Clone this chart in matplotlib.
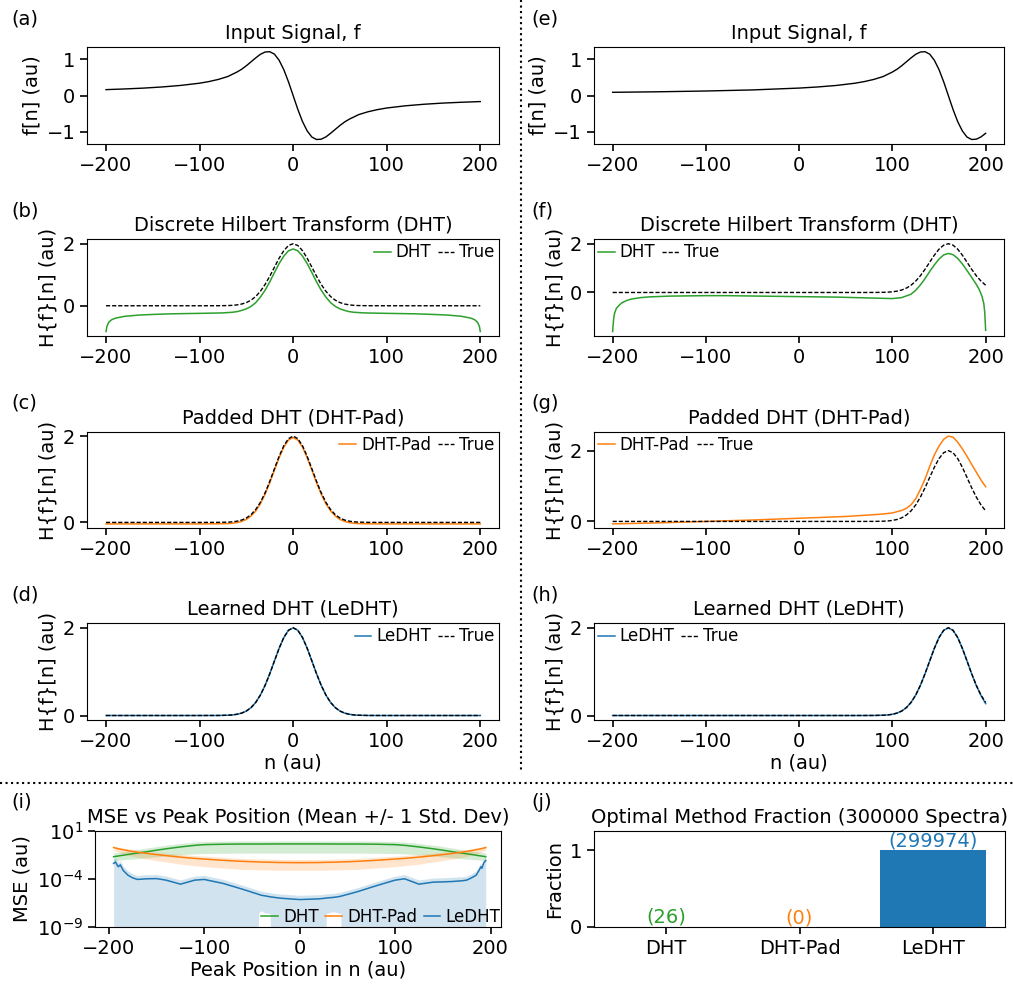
import numpy as np
import matplotlib
matplotlib.use("Agg")
import matplotlib.pyplot as plt
from matplotlib.lines import Line2D
from matplotlib.ticker import NullLocator

plt.rcParams['font.family'] = ['DejaVu Sans']
plt.rcParams['font.size'] = 14
plt.rcParams['axes.titlesize'] = 14
plt.rcParams['legend.fontsize'] = 12
plt.rcParams['xtick.major.size'] = 5
plt.rcParams['ytick.major.size'] = 5
plt.rcParams['xtick.major.width'] = 1.2
plt.rcParams['ytick.major.width'] = 1.2

# ---- left column: peak at n = 0
n_in_left = [-200, -180, -160, -140, -120, -100, -90, -80, -70, -60, -55, -50, -45, -40, -35,
             -30, -25, -20, -15, -10, -5, 0, 5, 10, 15, 20, 25, 30, 35, 40, 45, 50, 55, 60,
             70, 80, 90, 100, 120, 140, 160, 180, 200]
f_left = [0.165, 0.184, 0.207, 0.239, 0.282, 0.343, 0.388, 0.447, 0.526, 0.652, 0.729, 0.826,
          0.934, 1.043, 1.142, 1.205, 1.214, 1.146, 0.977, 0.718, 0.381, 0.0, -0.381, -0.718,
          -0.977, -1.146, -1.214, -1.205, -1.142, -1.043, -0.934, -0.826, -0.729, -0.652,
          -0.526, -0.447, -0.388, -0.343, -0.282, -0.239, -0.207, -0.184, -0.165]

n_true_left = [-200, -100, -80, -70, -65, -60, -55, -50, -45, -40, -35, -30, -25, -20, -15, -10,
               -5, 0, 5, 10, 15, 20, 25, 30, 35, 40, 45, 50, 55, 60, 65, 70, 80, 100, 200]
true_left = [0.0, 0.0, 0.001, 0.006, 0.013, 0.028, 0.055, 0.102, 0.180, 0.298, 0.466, 0.686,
             0.951, 1.243, 1.531, 1.776, 1.941, 2.0, 1.941, 1.776, 1.531, 1.243, 0.951, 0.686,
             0.466, 0.298, 0.180, 0.102, 0.055, 0.028, 0.013, 0.006, 0.001, 0.0, 0.0]
pad_left = [-0.035, -0.035, -0.033, -0.028, -0.02, -0.005, 0.022, 0.069, 0.147, 0.265, 0.433,
            0.653, 0.918, 1.21, 1.498, 1.743, 1.908, 1.967, 1.908, 1.743, 1.498, 1.21, 0.918,
            0.653, 0.433, 0.265, 0.147, 0.069, 0.022, -0.005, -0.02, -0.028, -0.033, -0.035,
            -0.035]
le_left = [0.0, 0.0, 0.001, 0.006, 0.013, 0.028, 0.055, 0.102, 0.18, 0.298, 0.466, 0.686,
           0.951, 1.243, 1.531, 1.776, 1.941, 1.995, 1.941, 1.776, 1.531, 1.243, 0.951, 0.686,
           0.466, 0.298, 0.18, 0.102, 0.055, 0.028, 0.013, 0.006, 0.001, 0.0, 0.0]

n_dht_left = [-200, -199, -197, -194, -190, -180, -165, -150, -130, -110, -90, -75, -65, -60,
              -55, -50, -45, -40, -35, -30, -25, -20, -15, -10, -5, 0, 5, 10, 15, 20, 25, 30,
              35, 40, 45, 50, 55, 60, 65, 75, 90, 110, 130, 150, 165, 180, 190, 194, 197, 199,
              200]
dht_left = [-0.83, -0.66, -0.53, -0.45, -0.40, -0.34, -0.30, -0.28, -0.26, -0.25, -0.24, -0.23,
            -0.21, -0.19, -0.15, -0.10, -0.02, 0.10, 0.28, 0.50, 0.77, 1.07, 1.36, 1.60, 1.77,
            1.83, 1.77, 1.60, 1.36, 1.07, 0.77, 0.50, 0.28, 0.10, -0.02, -0.10, -0.15, -0.19,
            -0.21, -0.23, -0.24, -0.25, -0.26, -0.28, -0.30, -0.34, -0.40, -0.45, -0.53, -0.66,
            -0.83]

# ---- right column: peak at n = 160
n_in_right = [-200, -150, -100, -50, 0, 20, 40, 60, 70, 80, 90, 100, 105, 110, 115, 120, 125,
              130, 135, 140, 145, 150, 155, 160, 165, 170, 175, 180, 185, 190, 195, 200]
f_right = [0.091, 0.106, 0.127, 0.157, 0.208, 0.239, 0.281, 0.343, 0.388, 0.447, 0.526, 0.652,
           0.729, 0.826, 0.934, 1.043, 1.142, 1.205, 1.214, 1.146, 0.977, 0.718, 0.381, 0.0,
           -0.381, -0.718, -0.977, -1.146, -1.214, -1.205, -1.142, -1.043]

n_true_right = [-200, 60, 80, 90, 95, 100, 105, 110, 115, 120, 125, 130, 135, 140, 145, 150,
                155, 160, 165, 170, 175, 180, 185, 190, 195, 200]
true_right = [0.0, 0.0, 0.001, 0.006, 0.013, 0.028, 0.055, 0.102, 0.180, 0.298, 0.466, 0.686,
              0.951, 1.243, 1.531, 1.776, 1.941, 2.0, 1.941, 1.776, 1.531, 1.243, 0.951, 0.686,
              0.466, 0.298]
le_right = [0.0, 0.0, 0.001, 0.006, 0.013, 0.028, 0.055, 0.102, 0.18, 0.298, 0.466, 0.686,
            0.951, 1.243, 1.531, 1.776, 1.941, 1.995, 1.94, 1.776, 1.531, 1.243, 0.951, 0.68,
            0.455, 0.27]

n_dht_right = [-200, -199, -198, -196, -193, -190, -185, -180, -170, -160, -140, -120, -100,
               -80, -60, -40, -20, 0, 20, 40, 60, 80, 100, 110, 120, 125, 130, 135, 140, 145,
               150, 155, 160, 165, 170, 175, 180, 185, 190, 193, 196, 198, 199, 200]
dht_right = [-1.6, -1.1, -0.86, -0.65, -0.52, -0.42, -0.33, -0.27, -0.21, -0.18, -0.15, -0.14,
             -0.13, -0.13, -0.14, -0.15, -0.16, -0.17, -0.18, -0.19, -0.21, -0.23, -0.25, -0.21,
             -0.07, 0.09, 0.31, 0.57, 0.86, 1.13, 1.37, 1.54, 1.60, 1.55, 1.40, 1.17, 0.90,
             0.62, 0.33, 0.13, -0.15, -0.45, -0.8, -1.55]

n_pad_right = [-200, -150, -100, -50, 0, 50, 80, 90, 100, 110, 115, 120, 125, 130, 135, 140,
               145, 150, 155, 160, 165, 170, 175, 180, 185, 190, 195, 200]
pad_right = [-0.07, -0.04, 0.0, 0.04, 0.09, 0.14, 0.19, 0.21, 0.24, 0.31, 0.37, 0.47, 0.64,
             0.90, 1.20, 1.55, 1.88, 2.13, 2.32, 2.41, 2.38, 2.24, 2.05, 1.84, 1.61, 1.39, 1.17,
             0.98]

# ---- (i) MSE vs peak position
pos = [-195, -190, -180, -170, -160, -150, -140, -125, -110, -100, -80, -60, -40, -20, 0, 20,
       40, 60, 80, 100, 110, 125, 140, 150, 160, 170, 180, 190, 195]
mse_dht = [0.021, 0.025, 0.036, 0.05, 0.07, 0.1, 0.14, 0.22, 0.32, 0.38, 0.42, 0.44, 0.44, 0.45,
           0.45, 0.45, 0.44, 0.44, 0.42, 0.38, 0.32, 0.22, 0.14, 0.1, 0.07, 0.05, 0.036, 0.025,
           0.021]
dht_hi = [0.05, 0.06, 0.085, 0.12, 0.17, 0.24, 0.33, 0.5, 0.7, 0.8, 0.88, 0.9, 0.9, 0.92, 0.92,
          0.92, 0.9, 0.9, 0.88, 0.8, 0.7, 0.5, 0.33, 0.24, 0.17, 0.12, 0.085, 0.06, 0.05]
dht_lo = [0.008, 0.009, 0.011, 0.013, 0.016, 0.02, 0.025, 0.033, 0.042, 0.045, 0.048, 0.05, 0.05,
          0.05, 0.05, 0.05, 0.05, 0.05, 0.048, 0.045, 0.042, 0.033, 0.025, 0.02, 0.016, 0.013,
          0.011, 0.009, 0.008]
mse_pad = [0.19, 0.14, 0.09, 0.062, 0.046, 0.035, 0.027, 0.019, 0.014, 0.012, 0.0088, 0.0069,
           0.0058, 0.0052, 0.005, 0.0052, 0.0058, 0.0069, 0.0088, 0.012, 0.014, 0.019, 0.027,
           0.035, 0.046, 0.062, 0.09, 0.14, 0.19]
pad_hi = [0.26, 0.2, 0.14, 0.1, 0.08, 0.063, 0.05, 0.037, 0.028, 0.024, 0.018, 0.014, 0.012,
          0.011, 0.011, 0.011, 0.012, 0.014, 0.018, 0.024, 0.028, 0.037, 0.05, 0.063, 0.08, 0.1,
          0.14, 0.2, 0.26]
pad_lo = [0.1, 0.06, 0.03, 0.018, 0.012, 0.008, 0.006, 0.0035, 0.0024, 0.0019, 0.0014, 0.001,
          0.0009, 0.0008, 0.0008, 0.0008, 0.0009, 0.001, 0.0014, 0.0019, 0.0024, 0.0035, 0.006,
          0.008, 0.012, 0.018, 0.03, 0.06, 0.1]

pos_le = [-195, -193, -191, -190, -188, -185, -180, -175, -170, -160, -150, -140, -125, -110,
          -100, -80, -60, -44, -43, -40, -37, -31, -30, -20, 0, 20, 27, 28, 35, 40, 43, 44, 60,
          80, 100, 110, 125, 140, 150, 160, 170, 175, 180, 185, 188, 190, 191, 193, 195]
mse_le = [4.2e-3, 6e-3, 2.5e-3, 1.9e-3, 3e-3, 8e-4, 2.5e-4, 1.3e-4, 9e-5, 1.05e-4, 1.1e-4,
          7.6e-5, 2.9e-5, 7.6e-5, 9e-5, 3.4e-5, 8.7e-6, 2.7e-6, 2.5e-6, 2e-6, 1.8e-6, 1.4e-6,
          1.35e-6, 1e-6, 7.2e-7, 8.5e-7, 1e-6, 1.05e-6, 1.2e-6, 1.4e-6, 1.6e-6, 1.7e-6, 4.6e-6,
          1.95e-5, 7.6e-5, 1.05e-4, 2.9e-5, 4.7e-5, 5e-5, 5.5e-5, 6.5e-5, 7.6e-5, 1.3e-4,
          2.5e-4, 8e-4, 1.9e-3, 1.3e-3, 5e-3, 8e-3]
le_hi = [1.2e-2, 1.6e-2, 7e-3, 5e-3, 8e-3, 2.2e-3, 7e-4, 3.5e-4, 2.4e-4, 2.8e-4, 2.9e-4, 2e-4,
         8e-5, 2e-4, 2.4e-4, 9e-5, 2.3e-5, 7e-6, 6.6e-6, 5.4e-6, 4.8e-6, 3.8e-6, 3.6e-6, 2.7e-6,
         2e-6, 2.3e-6, 2.7e-6, 2.8e-6, 3.2e-6, 3.8e-6, 4.3e-6, 4.5e-6, 1.2e-5, 5.2e-5, 2e-4,
         2.8e-4, 8e-5, 1.25e-4, 1.35e-4, 1.5e-4, 1.75e-4, 2e-4, 3.5e-4, 7e-4, 2.2e-3, 5e-3,
         3.5e-3, 1.3e-2, 2e-2]
le_lo = [1e-12] * 18 + [3e-8, 5e-8, 3e-8, 2.5e-8] + [1e-12] * 5 + [2.5e-8, 4e-8, 3e-8, 2.5e-8] \
        + [1e-12] * 18

# ---- (j) optimal method counts
methods = ['DHT', 'DHT-Pad', 'LeDHT']
counts = [26, 0, 299974]
n_spectra = 300000

GREEN, ORANGE, BLUE = '#2ca02c', '#ff7f0e', '#1f77b4'

W, H = 1013, 984
fig = plt.figure(figsize=(W / 100, H / 100), dpi=100)


def box(left, top, right, bottom):
    return fig.add_axes([left / W, 1 - bottom / H, (right - left) / W, (bottom - top) / H])


row_tops = [47.3, 239.3, 431.7, 623.3]
row_h = 96.6
cols = [(87.3, 499.0), (594.0, 1004.3)]
letters = [['(a)', '(b)', '(c)', '(d)'], ['(e)', '(f)', '(g)', '(h)']]
label_x = [11, 531]

columns = [
    dict(n_in=n_in_left, f=f_left, n_true=n_true_left, true=true_left,
         n_dht=n_dht_left, dht=dht_left, n_pad=n_true_left, pad=pad_left,
         n_le=n_true_left, le=le_left, loc='upper right'),
    dict(n_in=n_in_right, f=f_right, n_true=n_true_right, true=true_right,
         n_dht=n_dht_right, dht=dht_right, n_pad=n_pad_right, pad=pad_right,
         n_le=n_true_right, le=le_right, loc='upper left'),
]

for c, d in enumerate(columns):
    x0, x1 = cols[c]
    axs = [box(x0, t, x1, t + row_h) for t in row_tops]
    for r, t in enumerate(row_tops):
        fig.text(label_x[c] / W, 1 - (t - 38) / H, letters[c][r], ha='left', va='top')

    ax = axs[0]
    ax.plot(d['n_in'], d['f'], color='k', lw=1.0)
    ax.set_title('Input Signal, f')
    ax.set_ylabel('f[n] (au)')
    ax.set_yticks([-1, 0, 1])

    panels = [('Discrete Hilbert Transform (DHT)', 'DHT', GREEN, d['n_dht'], d['dht']),
              ('Padded DHT (DHT-Pad)', 'DHT-Pad', ORANGE, d['n_pad'], d['pad']),
              ('Learned DHT (LeDHT)', 'LeDHT', BLUE, d['n_le'], d['le'])]
    for ax, (title, lab, col, nx, vals) in zip(axs[1:], panels):
        ax.plot(nx, vals, color=col, lw=1.1, label=lab)
        ax.plot(d['n_true'], d['true'], color='k', ls='--', lw=1.0, dashes=(3.0, 1.4),
                label='True')
        ax.set_title(title)
        ax.set_ylabel('H{f}[n] (au)')
        ax.set_yticks([0, 2])
        ax.legend(loc=d['loc'], ncol=2, frameon=False, handlelength=1.0, handletextpad=0.3,
                  columnspacing=0.4, borderaxespad=0.1, borderpad=0.15)
    for ax in axs:
        ax.set_xlim(-220, 220)
        ax.set_xticks([-200, -100, 0, 100, 200])
    axs[-1].set_xlabel('n (au)', labelpad=2)

# ---- (i)
ax = box(95, 831, 501, 927)
ax.set_yscale('log')
ax.fill_between(pos, dht_lo, dht_hi, color=GREEN, alpha=0.2, lw=0)
ax.plot(pos, mse_dht, color=GREEN, lw=1.1, label='DHT')
ax.fill_between(pos, pad_lo, pad_hi, color=ORANGE, alpha=0.2, lw=0)
ax.plot(pos, mse_pad, color=ORANGE, lw=1.1, label='DHT-Pad')
ax.fill_between(pos_le, le_lo, le_hi, color=BLUE, alpha=0.2, lw=0)
ax.plot(pos_le, mse_le, color=BLUE, lw=1.1, label='LeDHT')
ax.set_ylim(1e-9, 1e1)
ax.set_yticks([1e1, 1e-4, 1e-9])
ax.yaxis.set_minor_locator(NullLocator())
ax.set_xlim(-214.5, 211)
ax.set_xticks([-200, -100, 0, 100, 200])
ax.set_title('MSE vs Peak Position (Mean +/- 1 Std. Dev)')
ax.set_ylabel('MSE (au)')
ax.set_xlabel('Peak Position in n (au)', labelpad=2)
ax.legend(loc='lower right', ncol=3, frameon=False, handlelength=1.0, handletextpad=0.3,
          columnspacing=0.4, borderaxespad=0.0, borderpad=0.05)
fig.text(11 / W, 1 - (831 - 38) / H, '(i)', ha='left', va='top')

# ---- (j)
ax = box(594, 831, 1005, 927)
fractions = [k / n_spectra for k in counts]
bar_cols = [GREEN, ORANGE, BLUE]
ax.bar(methods, fractions, color=bar_cols, width=0.8)
for i, (fr, k) in enumerate(zip(fractions, counts)):
    ax.text(i, fr, f'({k})', ha='center', va='bottom', color=bar_cols[i])
ax.set_ylim(0, 1.25)
ax.set_yticks([0, 1])
ax.set_ylabel('Fraction')
ax.set_title('Optimal Method Fraction (300000 Spectra)')
fig.text(531 / W, 1 - (831 - 38) / H, '(j)', ha='left', va='top')

# dotted separators
fig.add_artist(Line2D([521 / W, 521 / W], [1, 1 - 772 / H], transform=fig.transFigure,
                      color='k', ls=':', lw=1.5))
fig.add_artist(Line2D([0, 1], [1 - 783 / H, 1 - 783 / H], transform=fig.transFigure,
                      color='k', ls=':', lw=1.5))

fig.savefig('out.png', dpi=100)
